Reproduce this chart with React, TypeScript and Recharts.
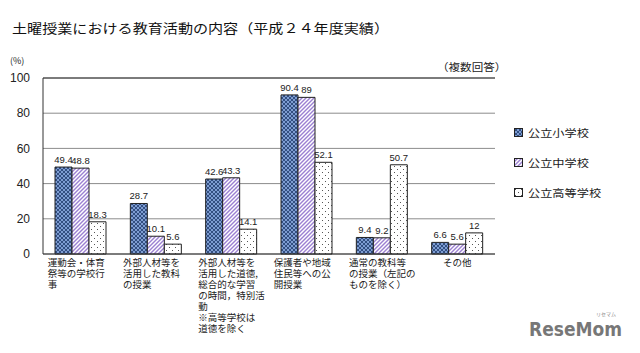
import { BarChart, Bar, XAxis, YAxis, CartesianGrid, LabelList, ReferenceLine } from 'recharts'

const categories = [
  ['運動会・体育', '祭等の学校行', '事'],
  ['外部人材等を', '活用した教科', 'の授業'],
  ['外部人材等を', '活用した道徳,', '総合的な学習', 'の時間，特別活', '動', '※高等学校は', '道徳を除く'],
  ['保護者や地域', '住民等への公', '開授業'],
  ['通常の教科等', 'の授業（左記の', 'ものを除く）'],
  ['その他'],
]
const elementary = [49.4, 28.7, 42.6, 90.4, 9.4, 6.6]
const juniorHigh = [48.8, 10.1, 43.3, 89, 9.2, 5.6]
const highSchool = [18.3, 5.6, 14.1, 52.1, 50.7, 12]
const yTicks = [0, 20, 40, 60, 80, 100]

const seriesNames = ['公立小学校', '公立中学校', '公立高等学校']
const seriesFills = ['url(#patBlue)', 'url(#patPurple)', 'url(#patDots)']

const data = categories.map((lines, i) => ({
  key: String(i),
  lines,
  elem: elementary[i],
  jr: juniorHigh[i],
  high: highSchool[i],
}))

const JP = '"Noto Sans CJK JP", "Liberation Sans", sans-serif'
const NUM = '"Liberation Sans", Arial, sans-serif'

// eslint-disable-next-line @typescript-eslint/no-explicit-any
const CategoryTick = ({ x, y, payload }: any) => {
  const lines: string[] = data[Number(payload.value)]?.lines ?? []
  const single = lines.length === 1
  const lx = single ? x : x - 33
  return (
    <text x={lx} y={y} textAnchor={single ? 'middle' : 'start'} fontSize={9.5} fontFamily={JP} fill="#222">
      {lines.map((l, i) => (
        <tspan key={i} x={lx} dy={i === 0 ? 10 : 11}>{l}</tspan>
      ))}
    </text>
  )
}

const Swatch = ({ fill }: { fill: string }) => (
  <svg width={10} height={10} style={{ display: 'block' }}>
    <rect x={0.5} y={0.5} width={8} height={8} fill={fill} stroke="#222" strokeWidth={1} />
  </svg>
)

export default function App() {
  return (
    <div style={{ position: 'absolute', left: 0, top: 0, width: 640, height: 353, background: '#fff' }}>
      <BarChart
        width={640}
        height={353}
        data={data}
        margin={{ top: 78, right: 145, bottom: 9, left: 8 }}
        barSize={17}
        barGap={0}
      >
        <defs>
          <pattern id="patBlue" width={4} height={4} patternUnits="userSpaceOnUse">
            <rect width={4} height={4} fill="#7e9dd2" />
            <path d="M0,0 L4,4 M4,0 L0,4" stroke="#2a4678" strokeWidth={0.9} />
          </pattern>
          <pattern id="patPurple" width={4} height={4} patternUnits="userSpaceOnUse">
            <rect width={4} height={4} fill="#fff" />
            <path d="M-1,1 L1,-1 M0,4 L4,0 M3,5 L5,3" stroke="#9b80d2" strokeWidth={1.4} />
          </pattern>
          <pattern id="patDots" width={6} height={6} patternUnits="userSpaceOnUse">
            <rect width={6} height={6} fill="#fff" />
            <rect x={1} y={1} width={1} height={1} fill="#555" />
            <rect x={4} y={4} width={1} height={1} fill="#555" />
          </pattern>
        </defs>
        <CartesianGrid vertical={false} stroke="#8c8c8c" />
        <XAxis
          dataKey="key"
          height={90}
          tick={<CategoryTick />}
          tickLine={false}
          tickSize={0}
          tickMargin={2}
          interval={0}
          axisLine={{ stroke: '#333' }}
        />
        <YAxis
          width={35}
          domain={[0, 100]}
          ticks={yTicks}
          tickLine={false}
          tickSize={0}
          tickMargin={13}
          axisLine={{ stroke: '#333' }}
          tick={{ fontSize: 12, fill: '#222', fontFamily: NUM }}
        />
        <YAxis yAxisId="right" orientation="right" width={0} tick={false} tickLine={false} axisLine={{ stroke: '#333' }} />
        <ReferenceLine y={100} stroke="#333" />
        <Bar dataKey="elem" fill={seriesFills[0]} stroke="#222" strokeWidth={1} isAnimationActive={false}>
          <LabelList dataKey="elem" position="top" offset={4} fontSize={9.5} fill="#222" fontFamily={NUM} />
        </Bar>
        <Bar dataKey="jr" fill={seriesFills[1]} stroke="#222" strokeWidth={1} isAnimationActive={false}>
          <LabelList dataKey="jr" position="top" offset={4} fontSize={9.5} fill="#222" fontFamily={NUM} />
        </Bar>
        <Bar dataKey="high" fill={seriesFills[2]} stroke="#222" strokeWidth={1} isAnimationActive={false}>
          <LabelList dataKey="high" position="top" offset={4} fontSize={9.5} fill="#222" fontFamily={NUM} />
        </Bar>
      </BarChart>

      <div
        style={{
          position: 'absolute', left: 12, top: 21, fontFamily: JP, fontSize: 13, lineHeight: '13px',
          color: '#111', whiteSpace: 'nowrap', transform: 'scaleX(1.16)', transformOrigin: 'left top',
        }}
      >
        土曜授業における教育活動の内容（平成２４年度実績）
      </div>
      <div style={{ position: 'absolute', left: 10, top: 56, fontFamily: JP, fontSize: 9, lineHeight: '9px', color: '#222' }}>
        (%)
      </div>
      <div
        style={{
          position: 'absolute', left: 437, top: 61, fontFamily: JP, fontSize: 10.5, lineHeight: '11px',
          color: '#222', whiteSpace: 'nowrap', transform: 'scaleX(1.1)', transformOrigin: 'left top',
        }}
      >
        （複数回答）
      </div>

      {seriesNames.map((name, i) => (
        <div
          key={name}
          style={{ position: 'absolute', left: 514, top: 127 + i * 30, display: 'flex', alignItems: 'center', gap: 4 }}
        >
          <Swatch fill={seriesFills[i]} />
          <span
            style={{
              fontFamily: JP, fontSize: 10.5, lineHeight: '12px', color: '#222', whiteSpace: 'nowrap',
              display: 'inline-block', transform: 'scaleX(1.16)', transformOrigin: 'left center',
            }}
          >
            {name}
          </span>
        </div>
      ))}

      <svg style={{ position: 'absolute', left: 526, top: 308 }} width={112} height={36}>
        <text x={70} y={8} fontSize={5} fill="#888" fontFamily={JP}>リセマム</text>
        <text
          x={3} y={28} fontSize={20} fontWeight="bold" fill="#777" fontFamily='"DejaVu Sans", sans-serif'
          textLength={93} lengthAdjust="spacingAndGlyphs"
        >
          ReseMom
        </text>
      </svg>
    </div>
  )
}
